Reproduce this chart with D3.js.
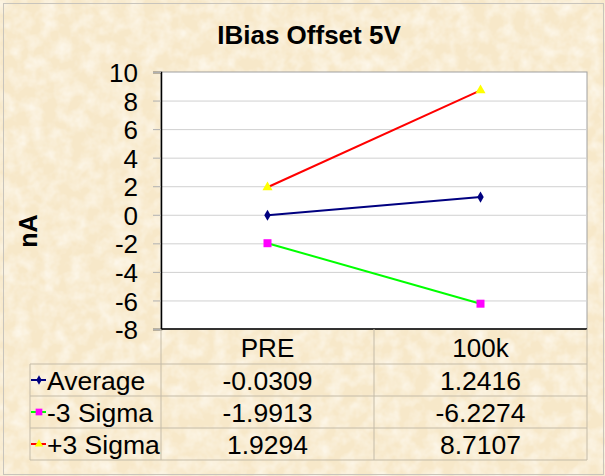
<!DOCTYPE html>
<html>
<head>
<meta charset="utf-8">
<title>IBias Offset 5V</title>
<script src="https://cdn.jsdelivr.net/npm/d3@7"></script>
<style>
  body { margin:0; background:#fff; }
  svg { display:block; font-family:"Liberation Sans", Arial, sans-serif; }
</style>
</head>
<body>
<svg id="chart"></svg>
<script>
// data
var categories = ["PRE", "100k"];
var seriesNames = ["Average", "-3 Sigma", "+3 Sigma"];
var average = [-0.0309, 1.2416];
var minus3Sigma = [-1.9913, -6.2274];
var plus3Sigma = [1.9294, 8.7107];
var yTicks = [-8, -6, -4, -2, 0, 2, 4, 6, 8, 10];

var width = 605, height = 476;
var plot = {left:161, right:587, top:72, bottom:329};
var rowH = 32, tableTop = 364, tableLeft = 30;

var series = [
  {name: seriesNames[0], values: average, line: "#000080", marker: "diamond", fill: "#000080"},
  {name: seriesNames[1], values: minus3Sigma, line: "#00ff00", marker: "square", fill: "#ff00ff"},
  {name: seriesNames[2], values: plus3Sigma, line: "#ff0000", marker: "triangle", fill: "#ffff00"}
];

var svg = d3.select("#chart").attr("width", width).attr("height", height);

// parchment background
var defs = svg.append("defs");
var f = defs.append("filter").attr("id", "paper").attr("x", 0).attr("y", 0).attr("width", 1).attr("height", 1);
f.append("feTurbulence").attr("type", "fractalNoise").attr("baseFrequency", 0.07).attr("numOctaves", 3).attr("seed", 4);
f.append("feColorMatrix").attr("type", "matrix")
  .attr("values", "0 0 0 0 1  0 0 0 0 0.98  0 0 0 0 0.93  1.3 0 0 0 -0.45");
f.append("feComposite").attr("in2", "SourceGraphic").attr("operator", "in");

svg.append("rect").attr("width", width).attr("height", height).attr("fill", "#f7e8c9");
svg.append("rect").attr("width", width).attr("height", height).attr("fill", "#f7e8c9").attr("filter", "url(#paper)");
svg.append("rect").attr("x", 3.5).attr("y", 3.5).attr("width", width - 5).attr("height", height - 5)
  .attr("fill", "none").attr("stroke", "#c8c4bc");

// title
svg.append("text").attr("x", 309).attr("y", 44).attr("text-anchor", "middle")
  .attr("font-size", 26).attr("font-weight", "bold").text("IBias Offset 5V");

// y label
svg.append("text").attr("transform", "translate(37,231) rotate(-90)").attr("text-anchor", "middle")
  .attr("font-size", 25).attr("font-weight", "bold").text("nA");

var x = d3.scaleBand().domain(categories).range([plot.left, plot.right]);
var y = d3.scaleLinear().domain([-8, 10]).range([plot.bottom, plot.top]);

// plot area
svg.append("rect").attr("x", plot.left).attr("y", plot.top)
  .attr("width", plot.right - plot.left).attr("height", plot.bottom - plot.top)
  .attr("fill", "#fff").attr("stroke", "#a0a0a0");

// grid
svg.append("g").attr("transform", "translate(" + plot.left + ",0)")
  .call(d3.axisLeft(y).tickValues(yTicks.slice(1, -1)).tickSize(-(plot.right - plot.left)).tickFormat(""))
  .call(function(g) {
    g.select(".domain").remove();
    g.selectAll("line").attr("stroke", "#d0d0d0");
  });

// y axis
svg.append("g").attr("transform", "translate(" + plot.left + ",0)")
  .call(d3.axisLeft(y).tickValues(yTicks).tickSize(8).tickPadding(15).tickFormat(function(d) { return String(d); }))
  .call(function(g) {
    g.select(".domain").attr("stroke", "#000").attr("stroke-width", 1.5);
    g.selectAll(".tick line").attr("stroke", "#b0b0b0");
    g.selectAll(".tick text").attr("font-size", 26).attr("fill", "#000")
      .attr("font-family", "'Liberation Sans', Arial, sans-serif").attr("dy", "0.37em");
  });

// bottom axis line
svg.append("line").attr("x1", plot.left).attr("x2", plot.right).attr("y1", plot.bottom).attr("y2", plot.bottom)
  .attr("stroke", "#000").attr("stroke-width", 1.5);

// lines and markers
var line = d3.line().x(function(d, i) { return x(categories[i]) + x.bandwidth() / 2; }).y(function(d) { return y(d); });
var symbols = {diamond: d3.symbolDiamond, square: d3.symbolSquare, triangle: d3.symbolTriangle};
var sizes = {diamond: 36, square: 64, triangle: 44};

series.forEach(function(s) {
  svg.append("path").attr("d", line(s.values)).attr("fill", "none").attr("stroke", s.line).attr("stroke-width", 2);
  svg.selectAll(null).data(s.values).enter().append("path")
    .attr("transform", function(d, i) { return "translate(" + (x(categories[i]) + x.bandwidth() / 2) + "," + y(d) + ")"; })
    .attr("d", d3.symbol().type(symbols[s.marker]).size(sizes[s.marker]))
    .attr("fill", s.fill);
});

// data table
var tableColor = "#c4bba8";
var tbl = svg.append("g");
var tableBottom = tableTop + rowH * series.length;
[tableTop, tableTop + rowH, tableTop + 2 * rowH, tableBottom].forEach(function(yy) {
  tbl.append("line").attr("x1", tableLeft).attr("x2", plot.right).attr("y1", yy).attr("y2", yy).attr("stroke", tableColor);
});
tbl.append("line").attr("x1", tableLeft).attr("x2", tableLeft).attr("y1", tableTop).attr("y2", tableBottom).attr("stroke", tableColor);
[plot.left, plot.left + x.bandwidth(), plot.right].forEach(function(xx) {
  tbl.append("line").attr("x1", xx).attr("x2", xx).attr("y1", plot.bottom).attr("y2", tableBottom).attr("stroke", tableColor);
});

categories.forEach(function(c) {
  tbl.append("text").attr("x", x(c) + x.bandwidth() / 2).attr("y", 357).attr("text-anchor", "middle")
    .attr("font-size", 26).text(c);
});

series.forEach(function(s, r) {
  var cy = tableTop + rowH * r + rowH / 2;
  tbl.append("line").attr("x1", 31).attr("x2", 46).attr("y1", cy).attr("y2", cy).attr("stroke", s.line).attr("stroke-width", 2);
  tbl.append("path").attr("transform", "translate(39," + cy + ")")
    .attr("d", d3.symbol().type(symbols[s.marker]).size(sizes[s.marker] * 0.7)).attr("fill", s.fill);
  tbl.append("text").attr("x", 47).attr("y", cy + 9.5).attr("font-size", 26.5).text(s.name);
  s.values.forEach(function(v, i) {
    tbl.append("text").attr("x", x(categories[i]) + x.bandwidth() / 2).attr("y", cy + 9.5)
      .attr("text-anchor", "middle").attr("font-size", 26.5).text(v.toFixed(4));
  });
});
</script>
</body>
</html>
